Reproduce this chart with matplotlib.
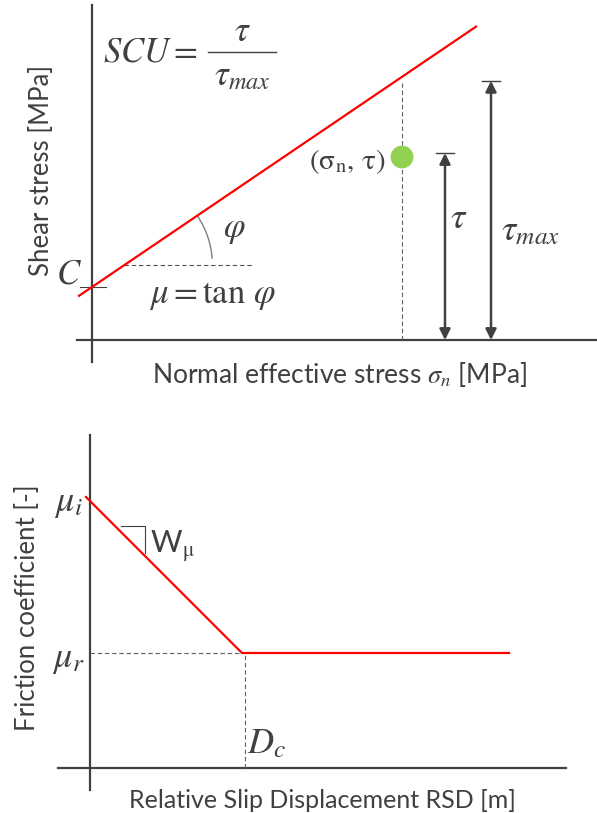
import numpy as np
import matplotlib.pyplot as plt
from matplotlib.patches import Arc

plt.rcParams['mathtext.fontset'] = 'stix'
plt.rcParams['font.family'] = ['Lato', 'DejaVu Sans']

ink = '#404040'
red = '#ff0000'

# --- Mohr-Coulomb panel (arbitrary units, origin at axis crossing)
cohesion = 1.325
mu = 0.678
sn_point = 7.75
tau_point = 4.575
tau_arrow_x = 8.825
tmax_arrow_x = 9.975
line_x = np.array([-0.325, 9.6])
hdash_x = np.array([0.81, 4.0])
hdash_y = 1.875

# --- slip weakening panel
mu_i = 6.775
mu_r = 2.875
Dc = 3.8
sw_x = np.array([-0.1, Dc, 10.475])
sw_y = np.array([mu_i, mu_r, mu_r])
tri_x = np.array([0.775, 1.375, 1.375])
tri_y = np.array([6.05, 6.05, 5.375])

fig = plt.figure(figsize=(5.97, 8.13), dpi=100)

# top panel
ax = fig.add_axes([0, 1 - 380 / 813, 1, 380 / 813])
ax.set_xlim(-2.3, 12.625)
ax.set_ylim(-1.0, 8.5)
ax.axis('off')

ax.plot([0, 0], [-0.55, 8.375], color=ink, lw=1.6)
ax.plot([-0.375, 12.625], [0, 0], color=ink, lw=1.6)
ax.plot(line_x, cohesion + mu * line_x, color=red, lw=1.6, zorder=3)
ax.plot([-0.3, 0.35], [cohesion, cohesion], color=ink, lw=0.8)
ax.plot(hdash_x, [hdash_y, hdash_y], color='#505050', lw=0.8, ls=(0, (4, 2.5)))
ax.add_patch(Arc((0.81, hdash_y), 4.4, 4.4, theta1=4, theta2=np.degrees(np.arctan(mu)),
                 color='#808080', lw=1.0))

tmax = cohesion + mu * sn_point
ax.plot([sn_point, sn_point], [0, tmax - 0.15], color='#606060', lw=0.8, ls=(0, (4, 2.5)))
ax.scatter([sn_point], [tau_point], s=270, color='#92d050', zorder=4, edgecolors='none')

for xa, top in [(tau_arrow_x, tau_point + 0.1), (tmax_arrow_x, tmax - 0.1)]:
    ax.annotate('', xy=(xa, top), xytext=(xa, 0),
                arrowprops=dict(arrowstyle='<|-|>', color=ink, lw=1.8, mutation_scale=16,
                                shrinkA=0, shrinkB=0))
    ax.plot([xa - 0.22, xa + 0.22], [top, top], color=ink, lw=1.0)

# SCU = tau / tau_max, drawn as a stacked fraction
ax.text(2.65, 7.2, r'$SCU=$', fontsize=25, color=ink, ha='right', va='center')
ax.plot([2.9, 4.6], [7.2, 7.2], color=ink, lw=1.0)
ax.text(3.75, 7.72, r'$\tau$', fontsize=25, color=ink, ha='center', va='center')
ax.text(3.75, 6.6, r'$\tau_{max}$', fontsize=25, color=ink, ha='center', va='center')

ax.text(-0.25, 1.65, r'$C$', fontsize=25, color=ink, ha='right', va='center')
ax.text(3.55, 2.75, r'$\varphi$', fontsize=25, color=ink, ha='center', va='center')
ax.text(3.0, 1.1, r'$\mu=\tan\,\varphi$', fontsize=25, color=ink, ha='center', va='center')
ax.text(7.35, tau_point - 0.1, r'$(\mathrm{\sigma_n,\,\tau})$', fontsize=21,
        color=ink, ha='right', va='center')
ax.text(tau_arrow_x + 0.35, 3.05, r'$\tau$', fontsize=26, color=ink, ha='center', va='center')
ax.text(tmax_arrow_x + 0.25, 2.75, r'$\tau_{max}$', fontsize=26, color=ink, ha='left', va='center')
ax.text(6.2, -0.85, r'Normal effective stress $\sigma_n$ [MPa]', fontsize=19, color=ink,
        ha='center', va='center')
ax.text(-1.25, 4.25, 'Shear stress [MPa]', fontsize=18.5, color=ink, rotation=90,
        ha='center', va='center')

# bottom panel
bx = fig.add_axes([0, 0, 1, 393 / 813])
bx.set_xlim(-2.25, 12.675)
bx.set_ylim(-1.125, 8.7)
bx.axis('off')

bx.plot([0, 0], [-0.55, 8.325], color=ink, lw=1.6)
bx.plot([-0.8, 11.9], [0, 0], color=ink, lw=1.6)
bx.plot([0, Dc], [mu_r, mu_r], color='#606060', lw=0.8, ls=(0, (4, 2.5)))
bx.plot([Dc + 0.075, Dc + 0.075], [0, mu_r], color='#606060', lw=0.8, ls=(0, (4, 2.5)))
bx.plot(sw_x, sw_y, color=red, lw=1.6, zorder=3)
bx.plot(tri_x, tri_y, color=ink, lw=0.8)

bx.text(-0.55, mu_i - 0.15, r'$\mu_i$', fontsize=26, color=ink, ha='center', va='center')
bx.text(-0.55, mu_r - 0.15, r'$\mu_r$', fontsize=26, color=ink, ha='center', va='center')
bx.text(Dc + 0.12, 0.6, r'$D_c$', fontsize=26, color=ink, ha='left', va='center')
bx.text(1.5, 5.55, r'W$_{\mathrm{\mu}}$', fontsize=22, color=ink, ha='left', va='center')
bx.text(5.8, -0.8, 'Relative Slip Displacement RSD [m]', fontsize=18, color=ink,
        ha='center', va='center')
bx.text(-1.55, 4.0, 'Friction coefficient [-]', fontsize=18.5, color=ink, rotation=90,
        ha='center', va='center')

fig.savefig('out.png', dpi=100)
